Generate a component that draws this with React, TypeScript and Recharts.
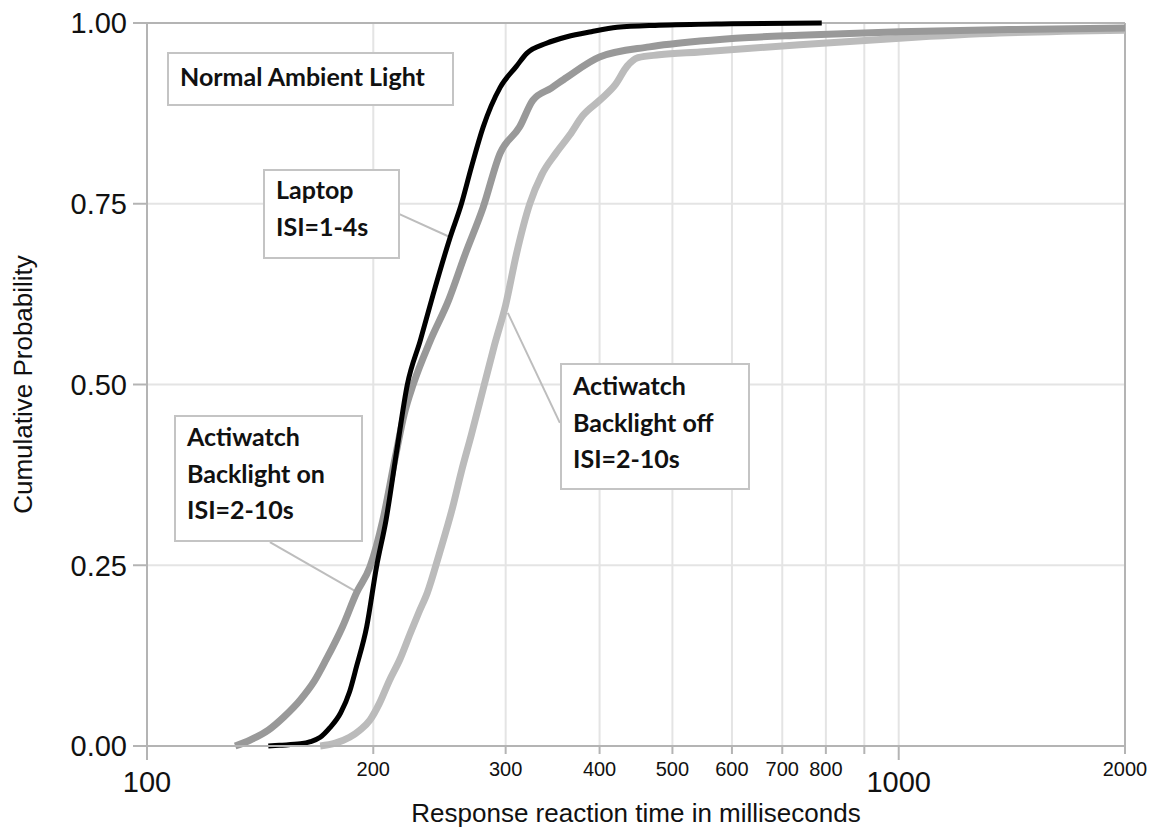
import React from 'react';
import { LineChart, Line, XAxis, YAxis, CartesianGrid, ReferenceLine } from 'recharts';

// Laptop, ISI=1-4s (black)
const laptopMs = [145, 150, 160, 165, 170, 175, 181, 186, 190, 196, 202, 208, 215, 222, 231, 240, 253, 262, 270, 280, 295, 310, 320, 340, 362, 390, 422, 480, 600, 790];
const laptopP = [0, 0.001, 0.003, 0.006, 0.012, 0.025, 0.046, 0.075, 0.11, 0.165, 0.248, 0.313, 0.41, 0.5, 0.561, 0.623, 0.703, 0.75, 0.8, 0.856, 0.911, 0.94, 0.958, 0.972, 0.981, 0.988, 0.994, 0.997, 0.999, 1.0];

// Actiwatch backlight on, ISI=2-10s (dark grey)
const onMs = [131, 137, 145, 152, 160, 167, 173, 182, 190, 198, 206, 214, 220, 226, 238, 252, 265, 280, 295, 313, 326, 345, 362, 400, 466, 544, 632, 738, 1003, 1400, 2000];
const onP = [0, 0.008, 0.022, 0.04, 0.064, 0.09, 0.119, 0.165, 0.212, 0.248, 0.313, 0.4, 0.46, 0.5, 0.56, 0.617, 0.68, 0.745, 0.82, 0.856, 0.893, 0.91, 0.925, 0.953, 0.967, 0.975, 0.98, 0.983, 0.988, 0.991, 0.993];

// Actiwatch backlight off, ISI=2-10s (light grey)
const offMs = [170, 178, 186, 192, 198, 204, 210, 217, 224, 230, 236, 245, 255, 262, 270, 281, 290, 300, 310, 323, 335, 350, 365, 380, 400, 420, 435, 450, 480, 544, 738, 1003, 1362, 2000];
const offP = [0, 0.004, 0.012, 0.022, 0.036, 0.06, 0.09, 0.12, 0.156, 0.185, 0.212, 0.267, 0.33, 0.38, 0.43, 0.5, 0.555, 0.61, 0.68, 0.75, 0.79, 0.82, 0.845, 0.872, 0.893, 0.915, 0.94, 0.952, 0.956, 0.96, 0.97, 0.979, 0.986, 0.99];

const xTicks = [100, 200, 300, 400, 500, 600, 700, 800, 900, 1000, 2000];
const yTicks = [0, 0.25, 0.5, 0.75, 1];

const toRows = (ms: number[], p: number[]) => ms.map((m, i) => ({ ms: m, p: p[i] }));
const laptopData = toRows(laptopMs, laptopP);
const onData = toRows(onMs, onP);
const offData = toRows(offMs, offP);

const AXIS = '#b4b4b4';
const GRID = '#e4e4e4';
const TICK_FONT = '"Liberation Sans", Arial, sans-serif';
const NOTE_FONT = 'Lato, "Open Sans", sans-serif';

const XTick = ({ x, y, payload }: any) => {
  const v = payload.value;
  const big = v === 100 || v === 1000;
  return (
    <g>
      <line x1={x} x2={x} y1={y} y2={y + (big ? 14 : 8)} stroke={AXIS} strokeWidth={2} />
      {v !== 900 && (
        <text
          x={x}
          y={y + (big ? 46 : 30)}
          textAnchor="middle"
          fontFamily={TICK_FONT}
          fontSize={big ? 29 : 20}
          fill="#111"
        >
          {v}
        </text>
      )}
    </g>
  );
};

const noteBox: React.CSSProperties = {
  position: 'absolute',
  boxSizing: 'border-box',
  border: '2px solid #c4c4c4',
  background: '#fff',
  fontFamily: NOTE_FONT,
  fontWeight: 700,
  fontSize: 25,
  color: '#111',
  lineHeight: '36.5px',
  paddingLeft: 11,
  paddingTop: 2,
  whiteSpace: 'nowrap',
};

export default function App() {
  return (
    <div style={{ position: 'absolute', left: 0, top: 0, width: 1151, height: 829, background: '#fff' }}>
      <LineChart width={1151} height={829} margin={{ top: 23, right: 26, bottom: 0, left: 0 }}>
        <CartesianGrid stroke={GRID} strokeWidth={2} />
        <XAxis
          dataKey="ms"
          type="number"
          scale="log"
          domain={[100, 2000]}
          allowDataOverflow
          ticks={xTicks}
          interval={0}
          height={83}
          tickSize={0}
          tickMargin={0}
          tickLine={false}
          tick={<XTick />}
          stroke={AXIS}
          strokeWidth={2}
          label={{
            value: 'Response reaction time in milliseconds',
            position: 'insideBottom',
            offset: 7,
            style: { fontFamily: TICK_FONT, fontSize: 26, fill: '#111' },
          }}
        />
        <YAxis
          type="number"
          domain={[0, 1]}
          ticks={yTicks}
          width={147}
          tickSize={14}
          tickMargin={6}
          tickLine={{ stroke: AXIS, strokeWidth: 2 }}
          stroke={AXIS}
          strokeWidth={2}
          tickFormatter={(v: number) => v.toFixed(2)}
          tick={{ fontFamily: TICK_FONT, fontSize: 29, fill: '#111' }}
          label={{
            value: 'Cumulative Probability',
            angle: -90,
            position: 'insideLeft',
            offset: 23,
            style: { textAnchor: 'middle', fontFamily: TICK_FONT, fontSize: 26, fill: '#111' },
          }}
        />
        <ReferenceLine y={1} stroke={AXIS} strokeWidth={2} />
        <ReferenceLine x={2000} stroke={AXIS} strokeWidth={2} />
        <ReferenceLine segment={[{ x: 216.3, y: 0.736 }, { x: 252.8, y: 0.704 }]} stroke="#bdbdbd" strokeWidth={2} ifOverflow="visible" />
        <ReferenceLine segment={[{ x: 145.7, y: 0.282 }, { x: 190.8, y: 0.212 }]} stroke="#bdbdbd" strokeWidth={2} ifOverflow="visible" />
        <ReferenceLine segment={[{ x: 302, y: 0.599 }, { x: 354.2, y: 0.447 }]} stroke="#bdbdbd" strokeWidth={2} ifOverflow="visible" />
        <Line data={offData} dataKey="p" type="monotoneX" stroke="#bbbbbb" strokeWidth={7} dot={false} activeDot={false} isAnimationActive={false} />
        <Line data={onData} dataKey="p" type="monotoneX" stroke="#999999" strokeWidth={7} dot={false} activeDot={false} isAnimationActive={false} />
        <Line data={laptopData} dataKey="p" type="monotoneX" stroke="#000000" strokeWidth={5} dot={false} activeDot={false} isAnimationActive={false} />
      </LineChart>

      <div style={{ ...noteBox, left: 167, top: 52, width: 287, height: 54, lineHeight: '40px' }}>Normal Ambient Light</div>
      <div style={{ ...noteBox, left: 263, top: 169, width: 137, height: 90, paddingTop: 0 }}>
        Laptop
        <br />
        ISI=1-4s
      </div>
      <div style={{ ...noteBox, left: 174, top: 415, width: 189, height: 127, paddingTop: 1 }}>
        Actiwatch
        <br />
        Backlight on
        <br />
        ISI=2-10s
      </div>
      <div style={{ ...noteBox, left: 560, top: 363, width: 190, height: 127 }}>
        Actiwatch
        <br />
        Backlight off
        <br />
        ISI=2-10s
      </div>
    </div>
  );
}
